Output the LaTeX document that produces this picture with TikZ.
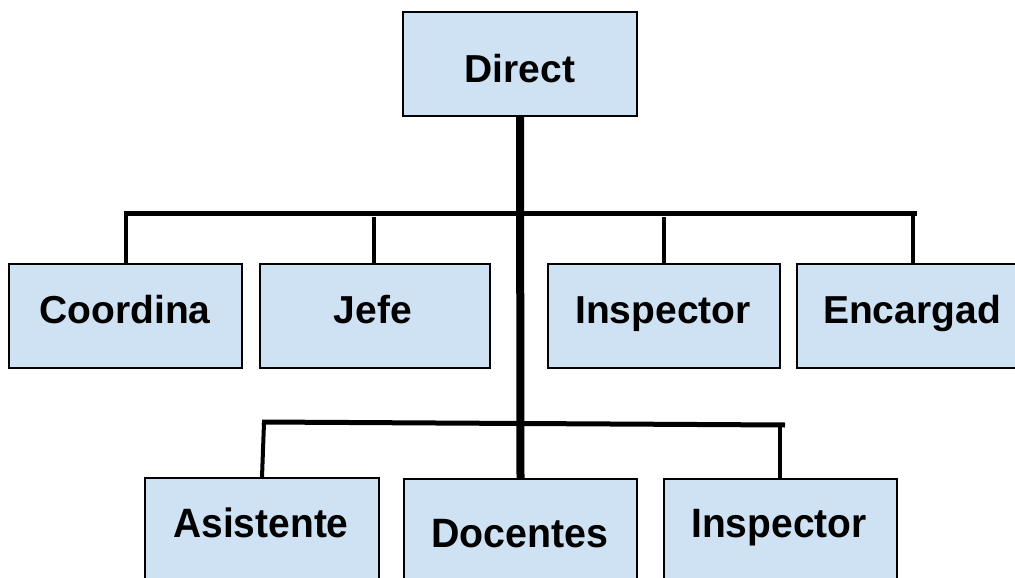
\documentclass[tikz,border=0pt]{standalone}
\usepackage{fontspec}
\setmainfont{Liberation Sans}
\usepackage{graphicx}
\definecolor{boxblue}{HTML}{CFE2F3}
\begin{document}
\begin{tikzpicture}[x=1pt,y=-1pt,
  box/.style={draw=black, fill=boxblue, line width=1.5pt, inner sep=0pt},
  lbl/.style={anchor=base, inner sep=0pt, font=\bfseries\fontsize{39}{41}\selectfont},
  lbltwo/.style={anchor=base, inner sep=0pt, font=\bfseries\fontsize{41}{43}\selectfont},
  trunk/.style={line width=8pt},
  bar/.style={line width=5pt},
  drop/.style={line width=4pt}]
\useasboundingbox (0,0) rectangle (1015,578);
\clip (0,0) rectangle (1015,578);
% boxes
\node[box, minimum width=234pt, minimum height=104pt] (direct) at (520,64) {};
\node[box, minimum width=233pt, minimum height=104pt] (coordina) at (125.5,316) {};
\node[box, minimum width=230pt, minimum height=104pt] (jefe) at (375,316) {};
\node[box, minimum width=232pt, minimum height=104pt] (inspector) at (664,316) {};
\node[box, minimum width=219pt, minimum height=104pt] (encargad) at (906.5,316) {};
\node[box, minimum width=234pt, minimum height=110pt] (asistente) at (262,533) {};
\node[box, minimum width=233pt, minimum height=110pt] (docentes) at (520.5,534) {};
\node[box, minimum width=233pt, minimum height=110pt] (inspectorb) at (780.5,534) {};
% labels
\node[lbl] (tdirect) at (520,82) {Direct};
\node[lbl] (tcoordina) at (125,323) {Coordina};
\node[lbl] (tjefe) at (373,323) {Jefe};
\node[lbl] (tinspector) at (663,323) {Inspector};
\node[lbl] (tencargad) at (912,323) {Encargad};
\node[lbltwo] (tasistente) at (261,537) {\scalebox{0.95}[1]{Asistente}};
\node[lbltwo] (tdocentes) at (520,547) {\scalebox{0.96}[1]{Docentes}};
\node[lbltwo] (tinspectorb) at (779,537) {\scalebox{0.95}[1]{Inspector}};
% connectors
\coordinate (h1l) at (124,213);
\coordinate (h1r) at (917,213);
\coordinate (j1) at (374,217);
\coordinate (i1) at (664,217);
\coordinate (e1) at (913,213);
\coordinate (h2l) at (262,422);
\coordinate (h2r) at (785,425);
\coordinate (a2) at (264,423);
\coordinate (i2) at (780,425);
\draw[bar] (h1l) -- (h1r);
\draw[drop] ([xshift=2pt]h1l) -- ([xshift=2pt]h1l |- coordina.north);
\draw[drop] (j1) -- (j1 |- jefe.north);
\draw[drop] (i1) -- (i1 |- inspector.north);
\draw[drop] (e1) -- (e1 |- encargad.north);
\draw[bar] (h2l) -- (h2r);
\draw[drop] (a2) -- (asistente.north);
\draw[drop] (i2) -- (i2 |- inspectorb.north);
\draw[trunk] (direct.south) -- (docentes.north);
\end{tikzpicture}
\end{document}
